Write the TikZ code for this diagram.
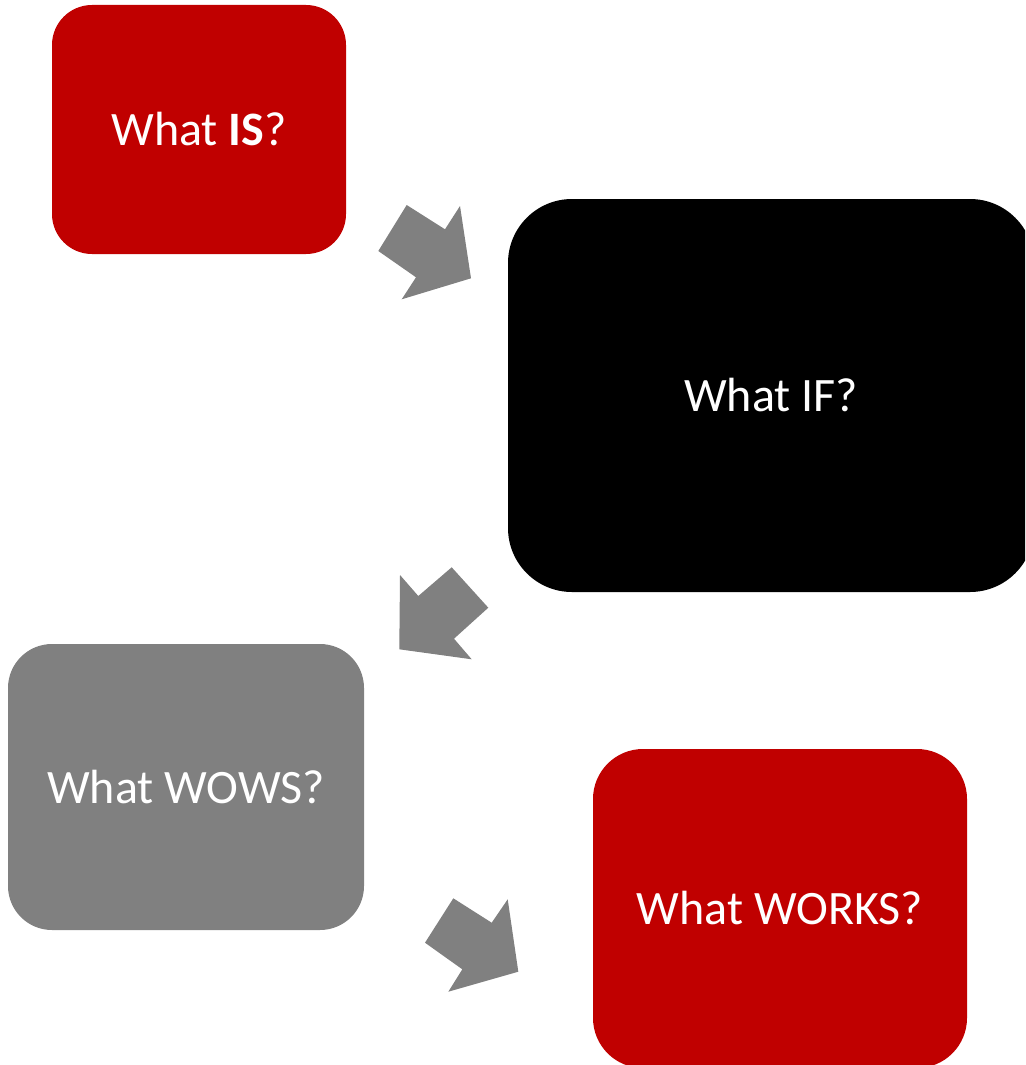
\documentclass[tikz,border=0pt]{standalone}
\usepackage{fontspec}
\setmainfont{Carlito}
\definecolor{deepred}{HTML}{C00000}
\definecolor{midgray}{HTML}{808080}
\begin{document}
\begin{tikzpicture}[x=1pt,y=-1pt,
  card/.style={rectangle, inner sep=0pt, outer sep=0pt, draw=none,
    text=white, font=\fontsize{48}{58}\selectfont},
  blockarrow/.style={fill=midgray, draw=none}]
\useasboundingbox (0,0) rectangle (1025,1065);
\clip (0,0) rectangle (1025,1065);

% the four question cards
\node[card, fill=deepred, minimum width=294pt, minimum height=249pt, rounded corners=40pt]
  (is) at (199,129.5) {What \textbf{IS}?};
\node[card, fill=black, minimum width=526pt, minimum height=393pt, rounded corners=64pt]
  (if) at (771,395.5) {What IF?};
\node[card, fill=midgray, minimum width=356pt, minimum height=286pt, rounded corners=44pt]
  (wows) at (186,787) {What WOWS?};
\node[card, fill=deepred, minimum width=374pt, minimum height=319pt, rounded corners=50pt]
  (works) at (780,908.5) {What WORKS?};

% block arrows between the cards
\fill[blockarrow] (406.7,205) -- (445,229.3) -- (460,206) -- (471,278.3)
  -- (401.7,299.3) -- (416,277.3) -- (378.3,251) -- cycle;
\fill[blockarrow] (400,575) -- (418.3,596) -- (451.7,567.3) -- (488.3,607.7)
  -- (454,638.7) -- (471.7,659.3) -- (399.3,649.3) -- cycle;
\fill[blockarrow] (453.3,898.3) -- (491.7,922.7) -- (507.7,899.3) -- (518.3,971.7)
  -- (448.3,991.7) -- (462.3,969.3) -- (425,942.7) -- cycle;
\end{tikzpicture}
\end{document}
